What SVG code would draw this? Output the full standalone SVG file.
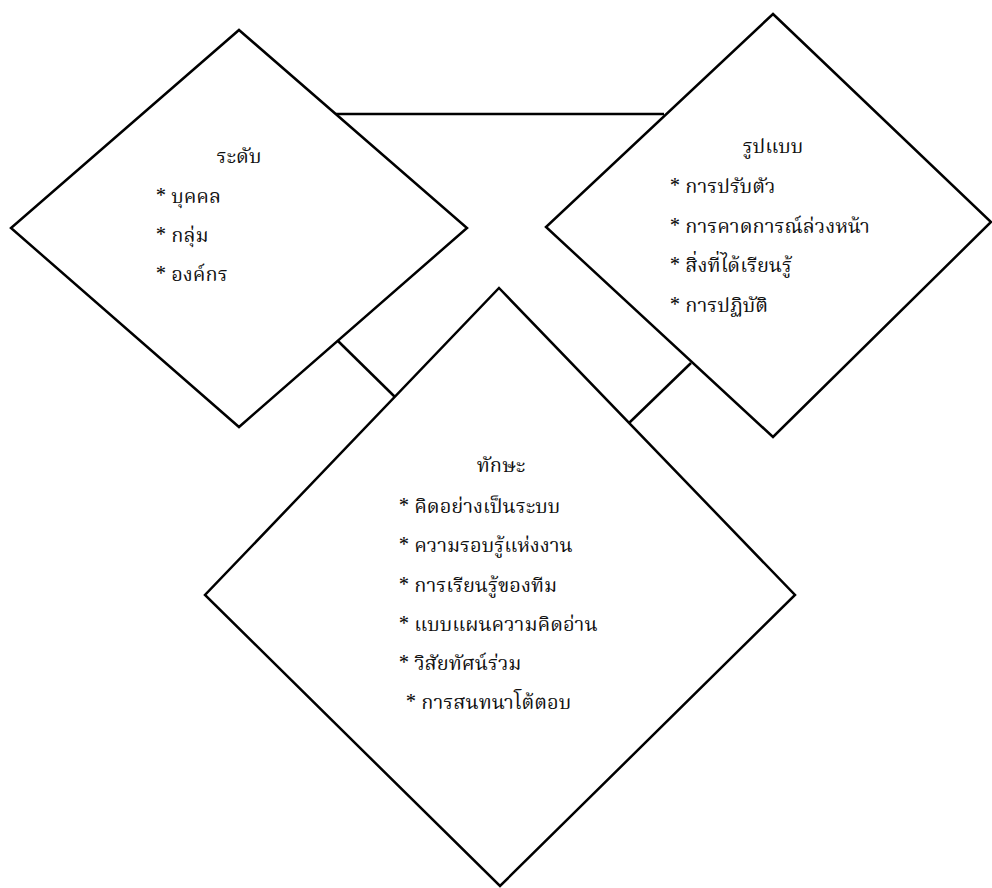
<svg xmlns="http://www.w3.org/2000/svg" width="992" height="888" viewBox="0 0 992 888">
  <style>
    .shape { fill: none; stroke: #000; stroke-width: 2.5; stroke-linejoin: miter; }
    .link { stroke: #000; stroke-width: 2.5; fill: none; }
    .title { font-family: "Noto Serif Thai", "Noto Sans Thai", "Tlwg Typo", "Garuda", "Loma", "Liberation Serif", serif; font-size: 20px; fill: #111; text-anchor: middle; }
    .item { font-family: "Noto Serif Thai", "Noto Sans Thai", "Tlwg Typo", "Garuda", "Loma", "Liberation Serif", serif; font-size: 20px; fill: #111; }
  </style>
  <rect width="992" height="888" fill="#fff"/>

  <!-- connectors between the three diamonds -->
  <g id="connectors">
    <line class="link" x1="336" y1="114" x2="664" y2="114"/>
    <line class="link" x1="338" y1="341" x2="395" y2="397"/>
    <line class="link" x1="691" y1="363" x2="629" y2="423"/>
  </g>

  <!-- level -->
  <g id="node-level">
    <polygon class="shape" points="239,30 467,228 239,427 11,228"/>
    <text class="title" x="239" y="163">ระดับ</text>
    <text class="item" x="156" y="203">* บุคคล</text>
    <text class="item" x="156" y="242">* กลุ่ม</text>
    <text class="item" x="156" y="281">* องค์กร</text>
  </g>

  <!-- pattern -->
  <g id="node-pattern">
    <polygon class="shape" points="773,14 991,222 773,437 546,227"/>
    <text class="title" x="773" y="153">รูปแบบ</text>
    <text class="item" x="670" y="193">* การปรับตัว</text>
    <text class="item" x="670" y="233">* การคาดการณ์ล่วงหน้า</text>
    <text class="item" x="670" y="272">* สิ่งที่ได้เรียนรู้</text>
    <text class="item" x="670" y="312">* การปฏิบัติ</text>
  </g>

  <!-- skills -->
  <g id="node-skills">
    <polygon class="shape" points="499,288 795,595 500,886 205,595"/>
    <text class="title" x="501" y="472">ทักษะ</text>
    <text class="item" x="399" y="513">* คิดอย่างเป็นระบบ</text>
    <text class="item" x="399" y="552">* ความรอบรู้แห่งงาน</text>
    <text class="item" x="399" y="592">* การเรียนรู้ของทีม</text>
    <text class="item" x="399" y="631">* แบบแผนความคิดอ่าน</text>
    <text class="item" x="399" y="670">* วิสัยทัศน์ร่วม</text>
    <text class="item" x="406" y="709">* การสนทนาโต้ตอบ</text>
  </g>
</svg>
